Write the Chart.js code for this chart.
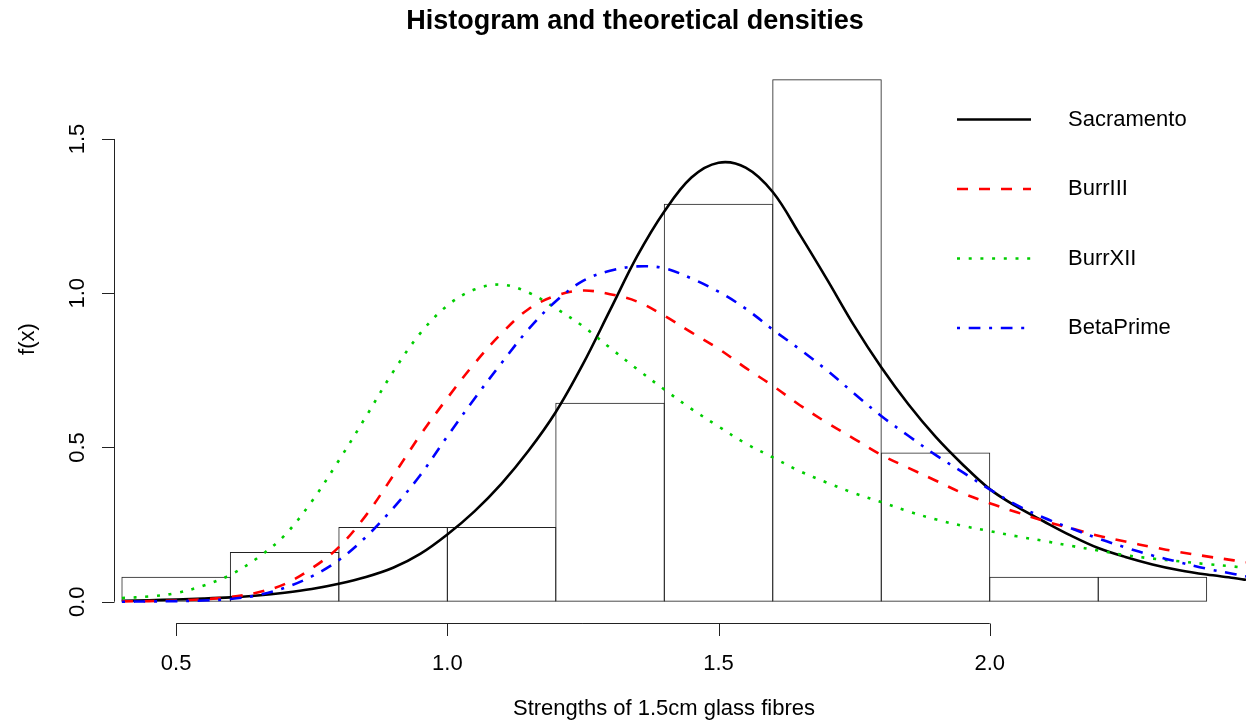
<!DOCTYPE html>
<html>
<head>
<meta charset="utf-8">
<title>Histogram and theoretical densities</title>
<script src="https://cdn.jsdelivr.net/npm/chart.js@4.4.1/dist/chart.umd.min.js"></script>
<style>
    html, body { margin: 0; padding: 0; background: #ffffff; }
    #wrap { width: 1246px; height: 724px; }
</style>
</head>
<body>
<div id="wrap"><canvas id="graph" width="1246" height="724"></canvas></div>
<script>
var FONT = '"Liberation Sans", Arial, Helvetica, sans-serif'

var mainTitle = "Histogram and theoretical densities"
var xTitle = "Strengths of 1.5cm glass fibres"
var yTitle = "f(x)"

// histogram: bin centres (width 0.2) and densities
var binMids = [0.5, 0.7, 0.9, 1.1, 1.3, 1.5, 1.7, 1.9, 2.1, 2.3]
var binDensity = [0.0806, 0.1613, 0.2419, 0.2419, 0.6452, 1.2903, 1.6935, 0.4839, 0.0806, 0.0806]

// x positions the fitted densities were read at
var curveX = [0.40, 0.45, 0.50, 0.55, 0.60, 0.65, 0.70, 0.75, 0.80, 0.85,
    0.90, 0.95, 1.00, 1.05, 1.10, 1.15, 1.20, 1.25, 1.30, 1.35,
    1.40, 1.45, 1.50, 1.55, 1.60, 1.65, 1.70, 1.75, 1.80, 1.85,
    1.90, 1.95, 2.00, 2.05, 2.10, 2.15, 2.20, 2.25, 2.30, 2.35,
    2.40, 2.45, 2.4725]

var sacramento = [0.003, 0.005, 0.007, 0.010, 0.014, 0.020, 0.029, 0.041, 0.058, 0.080,
    0.110, 0.155, 0.218, 0.293, 0.383, 0.490, 0.615, 0.770, 0.945, 1.120,
    1.265, 1.375, 1.423, 1.407, 1.328, 1.190, 1.045, 0.895, 0.760, 0.640,
    0.535, 0.445, 0.365, 0.308, 0.260, 0.214, 0.174, 0.145, 0.121, 0.102,
    0.088, 0.077, 0.071]

var burrIII = [0.001, 0.002, 0.004, 0.008, 0.015, 0.030, 0.057, 0.108, 0.177, 0.280,
    0.408, 0.540, 0.660, 0.772, 0.870, 0.949, 0.992, 1.009, 0.997, 0.973,
    0.927, 0.873, 0.820, 0.758, 0.700, 0.637, 0.580, 0.528, 0.476, 0.434,
    0.393, 0.352, 0.319, 0.290, 0.262, 0.238, 0.214, 0.195, 0.177, 0.161,
    0.147, 0.134, 0.128]

var burrXII = [0.012, 0.017, 0.028, 0.052, 0.087, 0.142, 0.215, 0.325, 0.458, 0.600,
    0.745, 0.870, 0.960, 1.012, 1.028, 1.002, 0.951, 0.893, 0.823, 0.754,
    0.688, 0.625, 0.568, 0.513, 0.468, 0.423, 0.386, 0.352, 0.323, 0.293,
    0.267, 0.246, 0.229, 0.212, 0.197, 0.181, 0.166, 0.151, 0.140, 0.131,
    0.122, 0.114, 0.109]

var betaPrime = [0.000, 0.001, 0.002, 0.004, 0.009, 0.021, 0.045, 0.082, 0.135, 0.210,
    0.303, 0.410, 0.536, 0.658, 0.774, 0.884, 0.974, 1.040, 1.073, 1.087,
    1.081, 1.048, 1.005, 0.950, 0.882, 0.818, 0.750, 0.675, 0.602, 0.538,
    0.476, 0.420, 0.364, 0.313, 0.272, 0.238, 0.205, 0.176, 0.150, 0.128,
    0.107, 0.090, 0.082]

var seriesNames = ["Sacramento", "BurrIII", "BurrXII", "BetaPrime"]

var xTicks = [0.5, 1.0, 1.5, 2.0]
var yTicks = [0.0, 0.5, 1.0, 1.5]

function toPoints(xs, ys) {
    var ret = []
    for (let i = 0; i < xs.length; i++) {
        ret.push({ x: xs[i], y: ys[i] })
    }
    return ret
}

function curve(label, values, color, dash, order) {
    return {
        type: "line",
        label: label,
        data: toPoints(curveX, values),
        borderColor: color,
        borderWidth: 2.6,
        borderDash: dash,
        borderCapStyle: "butt",
        pointRadius: 0,
        fill: false,
        tension: 0.35,
        order: order
    }
}

// draws the R style pieces: title, detached axes, rotated y labels, legend
var rStyle = {
    id: "rStyle",
    afterDraw: function (chart) {
        var ctx = chart.ctx
        var xs = chart.scales.x
        var ys = chart.scales.y
        ctx.save()
        ctx.fillStyle = "#000"
        ctx.strokeStyle = "#222"
        ctx.lineWidth = 1
        ctx.setLineDash([])

        ctx.font = "bold 27px " + FONT
        ctx.textAlign = "center"
        ctx.textBaseline = "middle"
        ctx.fillText(mainTitle, 635, 22)

        // x axis
        var axY = 623.5
        ctx.beginPath()
        ctx.moveTo(xs.getPixelForValue(xTicks[0]), axY)
        ctx.lineTo(xs.getPixelForValue(xTicks[xTicks.length - 1]), axY)
        xTicks.forEach(function (v) {
            var px = Math.round(xs.getPixelForValue(v)) + 0.5
            ctx.moveTo(px, axY)
            ctx.lineTo(px, axY + 12.5)
        })
        ctx.stroke()

        ctx.font = "22px " + FONT
        xTicks.forEach(function (v) {
            ctx.fillText(v.toFixed(1), xs.getPixelForValue(v), 664)
        })
        ctx.fillText(xTitle, 664, 709)

        // y axis
        var axX = 114.5
        ctx.beginPath()
        ctx.moveTo(axX, ys.getPixelForValue(yTicks[0]))
        ctx.lineTo(axX, ys.getPixelForValue(yTicks[yTicks.length - 1]))
        yTicks.forEach(function (v) {
            var py = Math.round(ys.getPixelForValue(v)) + 0.5
            ctx.moveTo(axX, py)
            ctx.lineTo(axX - 12.5, py)
        })
        ctx.stroke()

        yTicks.forEach(function (v) {
            ctx.save()
            ctx.translate(78, ys.getPixelForValue(v))
            ctx.rotate(-Math.PI / 2)
            ctx.fillText(v.toFixed(1), 0, 0)
            ctx.restore()
        })
        ctx.save()
        ctx.translate(28, 339)
        ctx.rotate(-Math.PI / 2)
        ctx.fillText(yTitle, 0, 0)
        ctx.restore()

        // legend (no box)
        ctx.textAlign = "left"
        var lines = chart.data.datasets.filter(function (d) { return d.type == "line" })
        lines.forEach(function (d, i) {
            var ly = 119.5 + i * 69.5
            ctx.save()
            ctx.strokeStyle = d.borderColor
            ctx.lineWidth = d.borderWidth
            ctx.lineCap = "butt"
            ctx.setLineDash(d.borderDash)
            ctx.beginPath()
            ctx.moveTo(957, ly)
            ctx.lineTo(1031, ly)
            ctx.stroke()
            ctx.restore()
            ctx.fillText(d.label, 1068, ly)
        })
        ctx.restore()
    }
}

var data = {
    datasets: [
        {
            type: "bar",
            label: "hist",
            data: toPoints(binMids, binDensity),
            backgroundColor: "rgba(0,0,0,0)",
            borderColor: "#222",
            borderWidth: 1,
            borderSkipped: false,
            inflateAmount: 0,
            barPercentage: 1.0092,
            categoryPercentage: 1,
            order: 5
        },
        curve(seriesNames[0], sacramento, "#000000", [], 4),
        curve(seriesNames[1], burrIII, "#ff0000", [11, 11], 3),
        curve(seriesNames[2], burrXII, "#00cd00", [3, 8.7], 2),
        curve(seriesNames[3], betaPrime, "#0000ff", [3, 8.7, 11.7, 8.7], 1)
    ]
}

var options = {
    responsive: false,
    devicePixelRatio: 1,
    animation: false,
    events: [],
    layout: {
        padding: { left: 114.3, right: 0, top: 56.3, bottom: 101.3 }
    },
    plugins: {
        legend: { display: false },
        title: { display: false },
        tooltip: { enabled: false }
    },
    scales: {
        x: {
            type: "linear",
            display: false,
            offset: false,
            min: 0.386,
            max: 2.4725,
            afterBuildTicks: function (axis) {
                axis.ticks = xTicks.map(function (v) { return { value: v } })
            }
        },
        y: {
            type: "linear",
            display: false,
            min: -0.068,
            max: 1.768,
            afterBuildTicks: function (axis) {
                axis.ticks = yTicks.map(function (v) { return { value: v } })
            }
        }
    }
}

var config = {
    type: "line",
    data: data,
    options: options,
    plugins: [rStyle]
}

var graph = new Chart(document.getElementById("graph"), config)
</script>
</body>
</html>
